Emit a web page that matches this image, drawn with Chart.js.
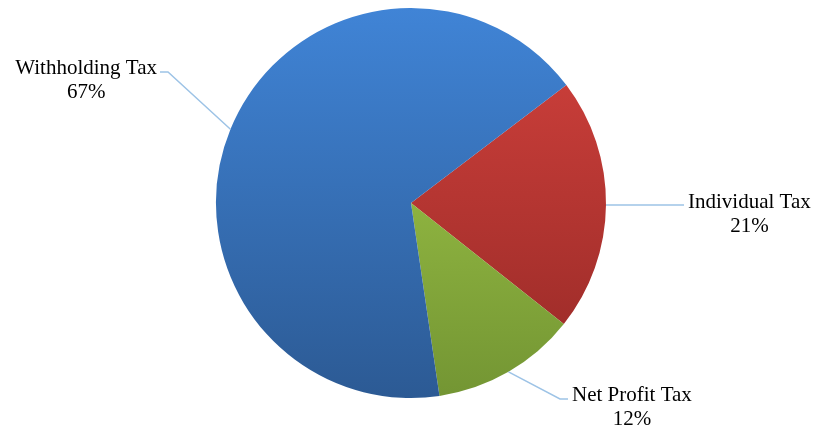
<!DOCTYPE html>
<html>
<head>
<meta charset="utf-8">
<script src="https://cdn.jsdelivr.net/npm/chart.js@4"></script>
<style>
  html, body { margin: 0; padding: 0; background: #fff; }
  #wrap { width: 817px; height: 425px; }
</style>
</head>
<body>
<div id="wrap"><canvas id="taxChart" width="817" height="425"></canvas></div>
<script>
// Data
const labels = ['Individual Tax', 'Net Profit Tax', 'Withholding Tax'];
const shares = [21, 12, 67];
const pctLabels = ['21%', '12%', '67%'];

// gradient colours per slice (top, bottom)
const sliceColors = [
    ['#d3423d', '#962926'],
    ['#a8d04c', '#739533'],
    ['#4084d6', '#2c5a94']
];

// label placement: leader elbow/end relative to pie center, text side
const labelPlace = [
    { elbow: [273, 2], end: [273, 2], side: 'left', dy: -3 },
    { elbow: [149, 196], end: [157, 196], side: 'left', dy: -4 },
    { elbow: [-243, -131], end: [-251, -131], side: 'right', dy: -4 }
];

const leaderPlugin = {
    id: 'leaders',
    afterDraw(chart) {
        const ctx = chart.ctx;
        const meta = chart.getDatasetMeta(0);
        ctx.save();
        meta.data.forEach(function(arc, i) {
            const p = arc.getProps(['x', 'y', 'startAngle', 'endAngle', 'outerRadius'], true);
            const mid = (p.startAngle + p.endAngle) / 2;
            const sx = p.x + Math.cos(mid) * p.outerRadius;
            const sy = p.y + Math.sin(mid) * p.outerRadius;
            const lp = labelPlace[i];
            const ex = p.x + lp.elbow[0], ey = p.y + lp.elbow[1];
            const tx = p.x + lp.end[0], ty = p.y + lp.end[1];
            ctx.strokeStyle = '#9dc3e6';
            ctx.lineWidth = 1.5;
            ctx.beginPath();
            ctx.moveTo(sx, sy);
            ctx.lineTo(ex, ey);
            ctx.lineTo(tx, ty);
            ctx.stroke();

            ctx.font = '21px "Liberation Serif", "Times New Roman", serif';
            ctx.fillStyle = '#000';
            ctx.textBaseline = 'middle';
            ctx.textAlign = 'center';
            const w = ctx.measureText(labels[i]).width;
            const cx = lp.side === 'left' ? tx + 4 + w / 2 : tx - 3 - w / 2;
            ctx.fillText(labels[i], cx, ty + lp.dy);
            ctx.fillText(pctLabels[i], cx, ty + lp.dy + 24);
        });
        ctx.restore();
    }
};

document.addEventListener('DOMContentLoaded', function() {
    const ctx = document.getElementById('taxChart').getContext('2d');

    new Chart(ctx, {
        type: 'pie',
        data: {
            labels: labels,
            datasets: [{
                data: shares,
                backgroundColor: function(c) {
                    const area = c.chart.chartArea;
                    if (!area) return sliceColors[c.dataIndex][0];
                    const g = c.chart.ctx.createLinearGradient(0, area.top, 0, area.bottom);
                    g.addColorStop(0, sliceColors[c.dataIndex][0]);
                    g.addColorStop(1, sliceColors[c.dataIndex][1]);
                    return g;
                },
                borderWidth: 0
            }]
        },
        options: {
            responsive: false,
            animation: false,
            rotation: 52.8,
            layout: { padding: { left: 5, right: 0, top: 8, bottom: 27 } },
            plugins: {
                legend: { display: false },
                tooltip: { enabled: false }
            }
        },
        plugins: [leaderPlugin]
    });
});
</script>
</body>
</html>
